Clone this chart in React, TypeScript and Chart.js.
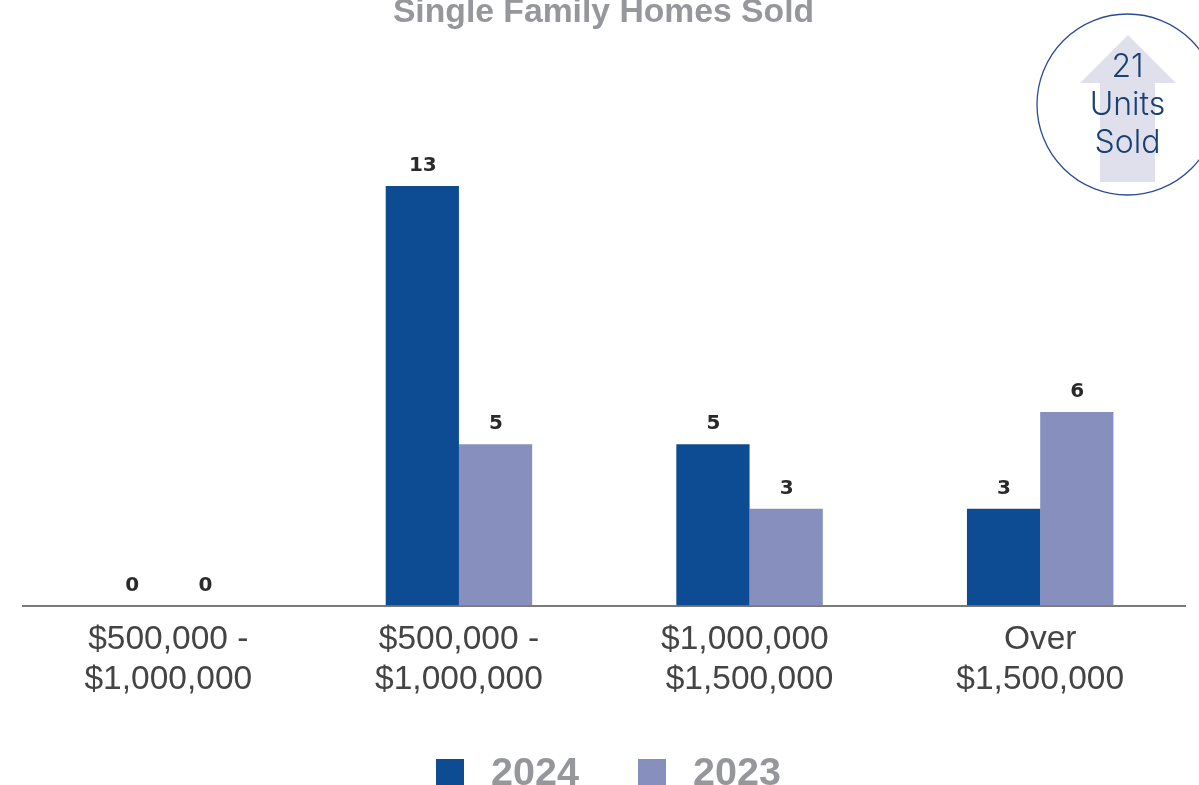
import React, { useEffect, useRef } from "react";
import { Chart, registerables } from "chart.js";

Chart.register(...registerables);

const categories = [
  ["$500,000 -", "$1,000,000"],
  ["$500,000 -", "$1,000,000"],
  ["$1,000,000 ", "$1,500,000"],
  ["Over", "$1,500,000"],
];
const series2024 = [0, 13, 5, 3];
const series2023 = [0, 5, 3, 6];
const titleText = "Single Family Homes Sold";
const badgeLines = ["21", "Units", "Sold"];

const barLabels = {
  id: "barLabels",
  afterDatasetsDraw(chart: any) {
    const { ctx } = chart;
    ctx.save();
    ctx.font = "bold 20px 'DejaVu Sans'";
    ctx.fillStyle = "#2a2a2a";
    ctx.textAlign = "center";
    ctx.textBaseline = "alphabetic";
    chart.data.datasets.forEach((ds: any, i: number) => {
      chart.getDatasetMeta(i).data.forEach((bar: any, j: number) => {
        ctx.fillText(String(ds.data[j]), bar.x + 0.5, bar.y - 15);
      });
    });
    ctx.restore();
  },
};

const chrome = {
  id: "chrome",
  beforeDatasetsDraw(chart: any) {
    const { ctx } = chart;
    ctx.save();
    ctx.fillStyle = "#96979b";
    ctx.font = "bold 33.7px 'Liberation Sans'";
    ctx.textAlign = "center";
    ctx.textBaseline = "alphabetic";
    ctx.fillText(titleText, 603.5, 22);
    // legend
    const legendX = [436, 638];
    chart.data.datasets.forEach((ds: any, i: number) => {
      ctx.fillStyle = ds.backgroundColor;
      ctx.fillRect(legendX[i], 759, 28, 27);
      ctx.fillStyle = "#96979b";
      ctx.font = "bold 39.5px 'Liberation Sans'";
      ctx.textAlign = "left";
      ctx.fillText(ds.label, legendX[i] + 55, 785);
    });
    // badge arrow
    ctx.fillStyle = "#e0e0ec";
    ctx.beginPath();
    ctx.moveTo(1128, 35);
    ctx.lineTo(1176, 83);
    ctx.lineTo(1155, 83);
    ctx.lineTo(1155, 182);
    ctx.lineTo(1100, 182);
    ctx.lineTo(1100, 83);
    ctx.lineTo(1080, 83);
    ctx.closePath();
    ctx.fill();
    // badge circle
    ctx.strokeStyle = "#2c4a96";
    ctx.lineWidth = 1.3;
    ctx.beginPath();
    ctx.arc(1127.5, 104.5, 90.5, 0, Math.PI * 2);
    ctx.stroke();
    ctx.fillStyle = "#1b4173";
    ctx.textAlign = "center";
    ctx.font = "300 32px 'Inter'";
    badgeLines.forEach((t, i) => ctx.fillText(t, 1127.5, 77 + i * 38));
    ctx.restore();
  },
};

export default function App() {
  const ref = useRef<HTMLCanvasElement>(null);
  useEffect(() => {
    document.body.style.margin = "0";
    const chart = new Chart(ref.current!, {
      type: "bar",
      data: {
        labels: categories,
        datasets: [
          { label: "2024", data: series2024, backgroundColor: "#0d4c93" },
          { label: "2023", data: series2023, backgroundColor: "#868fbd" },
        ],
      },
      plugins: [barLabels, chrome],
      options: {
        animation: false,
        responsive: false,
        layout: { padding: { left: 23, right: 13.5, top: 186, bottom: 71 } },
        datasets: { bar: { categoryPercentage: 0.504, barPercentage: 1 } },
        scales: {
          x: {
            grid: { display: false, drawTicks: false },
            border: { color: "#7a7a7a", width: 2 },
            ticks: {
              color: "#444444",
              font: { family: "'Liberation Sans'", size: 33.5 },
              padding: 14,
              maxRotation: 0,
              autoSkip: false,
            },
          },
          y: { display: false, min: 0, max: 13 },
        },
        plugins: {
          title: { display: false },
          tooltip: { enabled: false },
          legend: { display: false },
        },
      },
    } as any);
    return () => chart.destroy();
  }, []);
  return (
    <canvas
      ref={ref}
      width={1199}
      height={785}
      style={{ display: "block", width: 1199, height: 785 }}
    />
  );
}
